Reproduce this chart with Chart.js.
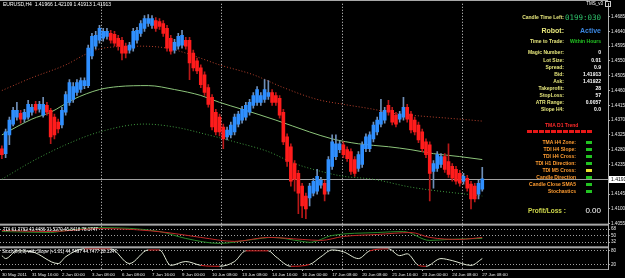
<!DOCTYPE html>
<html>
<head>
<meta charset="utf-8">
<script src="https://cdn.jsdelivr.net/npm/chart.js@4.4.1/dist/chart.umd.min.js"></script>
<style>
body{margin:0;background:#000;}
#wrap{position:relative;width:625px;height:278px;overflow:hidden;background:#000;font-family:"Liberation Sans",Arial,sans-serif;}
#chart{position:absolute;left:0;top:0;}
.t{position:absolute;white-space:nowrap;line-height:1;}
.lab{right:61px;font-size:5px;font-weight:bold;color:#e4e47a;text-align:right;}
.val{right:24px;font-size:5px;font-weight:bold;color:#fff;text-align:right;}
.ora{right:49px;font-size:5px;font-weight:bold;color:#ff9c30;text-align:right;}
.box{position:absolute;left:586px;width:6px;height:3px;background:#22c322;}
</style>
</head>
<body>
<div id="wrap">
<canvas id="chart" width="625" height="278"></canvas>

<div class="t" style="left:3px;top:2px;font-size:5px;color:#fff">EURUSD,H4&nbsp; 1.41966 1.42109 1.41913 1.41913</div>
<div class="t" style="left:3px;top:227.5px;font-size:4.5px;color:#fff">TDI 61.3762 43.4486 31.5279 45.8418 78.1747</div>
<div class="t" style="left:2px;top:249.5px;font-size:4.5px;color:#fff">Stoch(8,3,3) with Slope (+1.01) 44.7497 44.7477 28.1347</div>

<div class="t" style="right:22px;top:2px;font-size:4.5px;color:#fff">TMS_v3</div>
<div class="t" style="left:605px;top:1px;width:4px;height:4px;border:1px solid #ccc"></div>

<div class="t lab" style="top:14.5px">Candle Time Left:</div>
<div class="t" style="right:24px;top:13.5px;font-size:7.5px;font-family:'DejaVu Sans Mono',monospace;color:#2fc26b">0199:030</div>
<div class="t lab" style="top:26.5px;font-size:7px">Robot:</div>
<div class="t val" style="top:26.5px;font-size:7px;color:#3b86e0">Active</div>
<div class="t lab" style="top:38.5px">Time to Trade:</div>
<div class="t val" style="top:38.5px;color:#22c322">Within Hours</div>

<div class="t lab" style="top:49.5px">Magic Number:</div><div class="t val" style="top:49.5px">0</div>
<div class="t lab" style="top:57.5px">Lot Size:</div><div class="t val" style="top:57.5px">0.01</div>
<div class="t lab" style="top:64.5px">Spread:</div><div class="t val" style="top:64.5px">0.9</div>
<div class="t lab" style="top:71.5px">Bid:</div><div class="t val" style="top:71.5px">1.41913</div>
<div class="t lab" style="top:78.5px">Ask:</div><div class="t val" style="top:78.5px">1.41922</div>
<div class="t lab" style="top:85.5px">Takeprofit:</div><div class="t val" style="top:85.5px">28</div>
<div class="t lab" style="top:92.5px">StopLoss:</div><div class="t val" style="top:92.5px">57</div>
<div class="t lab" style="top:99.5px">ATR Range:</div><div class="t val" style="top:99.5px">0.0057</div>
<div class="t lab" style="top:106.5px">Slope H4:</div><div class="t val" style="top:106.5px">0.0</div>

<div class="t" style="left:545px;top:122.5px;font-size:5px;font-weight:bold;color:#ff2a2a">TMA D1 Trend</div>
<div class="t" style="left:527px;top:129.5px;width:66px;height:3px;background:repeating-linear-gradient(90deg,#e81818 0 5px,transparent 5px 6px)"></div>

<div class="t ora" style="top:139.5px">TMA H4 Zone:</div><div class="box" style="top:140.5px"></div>
<div class="t ora" style="top:146.5px">TDI H4 Slope:</div><div class="box" style="top:147.5px"></div>
<div class="t ora" style="top:153.5px">TDI H4 Cross:</div><div class="box" style="top:154.5px"></div>
<div class="t ora" style="top:160.5px">TDI H1 Direction:</div><div class="box" style="top:161.5px"></div>
<div class="t ora" style="top:167.5px">TDI M5 Cross:</div><div class="box" style="top:168.5px;background:#e8e030"></div>
<div class="t ora" style="top:174.5px">Candle Direction</div><div class="box" style="top:175.5px"></div>
<div class="t ora" style="top:181.5px">Candle Close SMA5</div><div class="box" style="top:182.5px"></div>
<div class="t ora" style="top:188.5px">Stochastics</div><div class="box" style="top:189.5px"></div>

<div class="t" style="left:528px;top:207.5px;font-size:6.5px;font-weight:bold;color:#cdd64a">Profit/Loss :</div>
<div class="t" style="right:24px;top:207px;font-size:8px;color:#fff">0.00</div>
</div>

<script>
// EURUSD H4 candles, bar index 0 = 30 May 2011
const open=[1.4283,1.4268,1.4325,1.4358,1.4379,1.4391,1.4373,1.4379,1.4394,1.4418,
1.4403,1.4385,1.4415,1.4400,1.4379,1.4364,1.4355,1.4394,1.4424,1.4433,
1.4454,1.4463,1.4475,1.4475,1.4565,1.4595,1.4613,1.4619,1.4625,1.4634,
1.4631,1.4619,1.4613,1.4595,1.4583,1.4589,1.4613,1.4634,1.4649,1.4664,
1.4658,1.4673,1.4670,1.4664,1.4649,1.4619,1.4583,1.4595,1.4598,1.4613,
1.4613,1.4574,1.4550,1.4529,1.4508,1.4469,1.4439,1.4394,1.4379,1.4349,
1.4319,1.4325,1.4334,1.4358,1.4370,1.4379,1.4394,1.4415,1.4424,1.4424,
1.4433,1.4442,1.4454,1.4445,1.4436,1.4394,1.4319,1.4289,1.4238,1.4208,
1.4169,1.4139,1.4133,1.4148,1.4154,1.4172,1.4178,1.4154,1.4229,1.4259,
1.4280,1.4295,1.4280,1.4274,1.4250,1.4223,1.4235,1.4283,1.4283,1.4313,
1.4334,1.4358,1.4370,1.4415,1.4400,1.4385,1.4373,1.4379,1.4409,1.4388,
1.4370,1.4355,1.4334,1.4304,1.4295,1.4214,1.4223,1.4235,1.4259,1.4244,
1.4229,1.4220,1.4208,1.4184,1.4193,1.4175,1.4169,1.4145,1.4160];
const high=[1.4292,1.4343,1.4379,1.4409,1.4424,1.4400,1.4403,1.4430,1.4418,1.4427,
1.4427,1.4439,1.4424,1.4406,1.4388,1.4373,1.4409,1.4457,1.4493,1.4484,
1.4493,1.4499,1.4499,1.4598,1.4634,1.4640,1.4658,1.4649,1.4649,1.4643,
1.4640,1.4628,1.4622,1.4604,1.4607,1.4649,1.4652,1.4673,1.4688,1.4691,
1.4688,1.4682,1.4679,1.4673,1.4658,1.4628,1.4616,1.4634,1.4643,1.4622,
1.4622,1.4583,1.4559,1.4538,1.4517,1.4478,1.4448,1.4403,1.4388,1.4358,
1.4349,1.4364,1.4388,1.4397,1.4412,1.4424,1.4433,1.4454,1.4472,1.4454,
1.4493,1.4490,1.4463,1.4454,1.4445,1.4403,1.4328,1.4298,1.4247,1.4217,
1.4178,1.4148,1.4178,1.4193,1.4220,1.4196,1.4187,1.4259,1.4325,1.4325,
1.4307,1.4304,1.4289,1.4283,1.4259,1.4274,1.4304,1.4328,1.4334,1.4364,
1.4379,1.4433,1.4409,1.4430,1.4409,1.4394,1.4397,1.4439,1.4418,1.4397,
1.4379,1.4364,1.4343,1.4313,1.4304,1.4247,1.4274,1.4268,1.4268,1.4298,
1.4238,1.4229,1.4217,1.4208,1.4202,1.4184,1.4178,1.4187,1.4226];
const low=[1.4253,1.4256,1.4295,1.4352,1.4370,1.4361,1.4364,1.4373,1.4385,1.4391,
1.4394,1.4379,1.4385,1.4298,1.4313,1.4331,1.4346,1.4385,1.4415,1.4424,
1.4445,1.4454,1.4466,1.4469,1.4556,1.4586,1.4604,1.4610,1.4616,1.4604,
1.4595,1.4583,1.4553,1.4559,1.4574,1.4580,1.4604,1.4625,1.4640,1.4655,
1.4649,1.4640,1.4646,1.4625,1.4580,1.4571,1.4574,1.4586,1.4589,1.4586,
1.4493,1.4520,1.4511,1.4469,1.4445,1.4409,1.4340,1.4325,1.4322,1.4283,
1.4310,1.4316,1.4325,1.4349,1.4361,1.4370,1.4385,1.4406,1.4415,1.4415,
1.4424,1.4433,1.4415,1.4415,1.4376,1.4295,1.4229,1.4169,1.4154,1.4085,
1.4073,1.4070,1.4109,1.4139,1.4145,1.4163,1.4124,1.4145,1.4220,1.4250,
1.4271,1.4256,1.4244,1.4205,1.4199,1.4214,1.4226,1.4274,1.4274,1.4304,
1.4325,1.4349,1.4361,1.4385,1.4355,1.4349,1.4364,1.4370,1.4364,1.4331,
1.4325,1.4301,1.4274,1.4256,1.4124,1.4163,1.4214,1.4226,1.4211,1.4196,
1.4184,1.4175,1.4169,1.4175,1.4154,1.4100,1.4121,1.4130,1.4154];
const close=[1.4265,1.4334,1.4370,1.4400,1.4400,1.4373,1.4394,1.4418,1.4409,1.4400,
1.4418,1.4418,1.4394,1.4319,1.4325,1.4343,1.4400,1.4448,1.4484,1.4472,
1.4484,1.4490,1.4490,1.4589,1.4625,1.4628,1.4649,1.4640,1.4640,1.4613,
1.4604,1.4595,1.4574,1.4574,1.4598,1.4640,1.4643,1.4664,1.4679,1.4679,
1.4679,1.4649,1.4655,1.4634,1.4589,1.4580,1.4607,1.4625,1.4628,1.4595,
1.4544,1.4529,1.4520,1.4478,1.4454,1.4418,1.4349,1.4334,1.4334,1.4313,
1.4340,1.4355,1.4379,1.4388,1.4403,1.4415,1.4424,1.4445,1.4463,1.4445,
1.4463,1.4454,1.4424,1.4424,1.4385,1.4304,1.4244,1.4184,1.4190,1.4148,
1.4109,1.4100,1.4169,1.4184,1.4199,1.4187,1.4145,1.4250,1.4304,1.4298,
1.4298,1.4265,1.4253,1.4214,1.4208,1.4265,1.4295,1.4319,1.4325,1.4355,
1.4370,1.4394,1.4400,1.4394,1.4364,1.4358,1.4388,1.4409,1.4373,1.4340,
1.4334,1.4310,1.4283,1.4265,1.4208,1.4238,1.4265,1.4259,1.4220,1.4205,
1.4193,1.4184,1.4178,1.4199,1.4163,1.4130,1.4130,1.4178,1.4191];

// TMA lines (bar index, price)
const midIdx=[0,8,13,19,26,31,39,46,53,58,64,73,82,88,95,103,109,115,122,128];
const midVal=[1.4325,1.4373,1.4394,1.4433,1.4463,1.4472,1.4475,1.4463,1.4445,1.4424,1.4403,1.4370,1.4334,1.4313,1.4298,1.4289,1.4280,1.4268,1.4259,1.4250];
const upIdx=[0,8,17,23,27,37,44,49,55,58,67,75,84,91,99,104,109,122,128];
const upVal=[1.4460,1.4499,1.4538,1.4574,1.4589,1.4595,1.4589,1.4574,1.4550,1.4538,1.4508,1.4469,1.4433,1.4418,1.4403,1.4391,1.4385,1.4373,1.4367];
const dnIdx=[0,8,17,26,38,46,55,62,71,78,85,91,99,109,128];
const dnVal=[1.4190,1.4244,1.4295,1.4334,1.4358,1.4349,1.4325,1.4304,1.4274,1.4238,1.4214,1.4199,1.4190,1.4166,1.4139];

// TDI
const tdiRedIdx=[0,13,26,35,44,53,62,71,80,85,91,100,109,114,122,128];
const tdiRed=[63.8,61.1,69.3,66.6,58.3,44.7,33.7,44.7,39.2,36.4,47.4,52.9,58.3,44.7,39.2,44.7];
const tdiGreenIdx=[0,13,17,26,42,49,58,67,72,80,82,88,100,107,114,119,128];
const tdiGreen=[61.1,58.3,63.8,72.0,61.1,41.9,28.2,39.2,44.7,33.7,31.0,50.1,58.3,61.1,36.4,39.2,41.9];

// Stochastic
const stochIdx=[0,1,4,8,15,17,22,29,34,39,42,45,49,53,58,62,65,71,73,77,82,85,88,91,95,98,103,106,108,111,113,117,120,125,128];
const stochVal=[59,46,80,76,24,54,89,89,24,84,84,16,33,16,12,33,80,80,54,12,20,54,84,76,46,80,89,59,67,16,12,46,37,16,46];

// axes
const priceTicks=[1.4685,1.4640,1.4595,1.4550,1.4505,1.4460,1.4415,1.4370,1.4325,1.4280,1.4235,1.4145,1.4100,1.4055];
const tdiTicks=[68,50,32];
const stochTicks=[80,20];
const timeIdx=[0,8,16,24,32,40,48,56,64,72,80,88,96,104,112,120,128];
const timeLabels=['30 May 2011','31 May 16:00','2 Jun 00:00','3 Jun 08:00','6 Jun 08:00','7 Jun 16:00','9 Jun 00:00','10 Jun 08:00','13 Jun 08:00','14 Jun 16:00','16 Jun 00:00','17 Jun 08:00','20 Jun 08:00','21 Jun 16:00','23 Jun 00:00','24 Jun 08:00','27 Jun 08:00'];
const weekStarts=[26.5,58.5,90.5,122.5];
const bid=1.41913;

Chart.defaults.font.family='Liberation Sans';
Chart.defaults.font.size=5;
Chart.defaults.color='#e8e8e8';

const pts=(idx,vals)=>idx.map((x,k)=>({x:x,y:vals[k]}));
const up=open.map((o,i)=>close[i]>=o);

const panelPlugin={
id:'panels',
beforeDraw(chart){
const ctx=chart.ctx;
ctx.save();
ctx.fillStyle='#000';
ctx.fillRect(0,0,chart.width,chart.height);
ctx.restore();
},
beforeDatasetsDraw(chart){
const {ctx,chartArea,scales}=chart;
ctx.save();
ctx.lineWidth=1;
ctx.strokeStyle='#d8d8d8';
ctx.setLineDash([1,2]);
weekStarts.forEach(w=>{
const x=Math.round(scales.x.getPixelForValue(w))+0.5;
ctx.beginPath();
ctx.moveTo(x,chartArea.top);
ctx.lineTo(x,chartArea.bottom);
ctx.stroke();
});
ctx.setLineDash([]);
ctx.strokeStyle='#a0a0a0';
const py=Math.round(scales.y.getPixelForValue(bid))+0.5;
ctx.beginPath();
ctx.moveTo(chartArea.left,py);
ctx.lineTo(chartArea.right,py);
ctx.stroke();
ctx.restore();
},
afterDraw(chart){
const {ctx,chartArea,scales}=chart;
ctx.save();
ctx.fillStyle='#a8a8a8';
ctx.fillRect(0,0,chartArea.right,1);
ctx.fillRect(0,scales.yT.top,chartArea.right,2);
ctx.fillRect(0,scales.yS.top,chartArea.right,2);
const py=Math.round(scales.y.getPixelForValue(bid));
ctx.fillStyle='#fff';
ctx.fillRect(chartArea.right+1,py-3,chart.width-chartArea.right-1,7);
ctx.fillStyle='#000';
ctx.font='5px "Liberation Sans"';
ctx.textBaseline='middle';
ctx.fillText(bid.toFixed(4),chartArea.right+3,py+0.5);
ctx.restore();
}
};

const chart=new Chart(document.getElementById('chart'),{
type:'bar',
data:{
datasets:[
{
label:'bodies',
data:open.map((o,i)=>({x:i,y:[o,close[i]]})),
backgroundColor:up.map(u=>u?'#2f8fff':'#ff1c1c'),
barThickness:3,
grouped:false,
order:1
},
{
label:'wicks',
data:open.map((o,i)=>({x:i,y:[low[i],high[i]]})),
backgroundColor:up.map(u=>u?'#6f8fb8':'#b81818'),
barThickness:1,
grouped:false,
order:2
},
{
type:'line',
label:'TMA mid',
data:pts(midIdx,midVal),
borderColor:'#8cc47a',
borderWidth:1,
pointRadius:0,
cubicInterpolationMode:'monotone',
order:3
},
{
type:'line',
label:'TMA upper',
data:pts(upIdx,upVal),
borderColor:'#b8402c',
borderWidth:1,
borderDash:[1,2],
pointRadius:0,
cubicInterpolationMode:'monotone',
order:3
},
{
type:'line',
label:'TMA lower',
data:pts(dnIdx,dnVal),
borderColor:'#3f9a3f',
borderWidth:1,
borderDash:[1,2],
pointRadius:0,
cubicInterpolationMode:'monotone',
order:3
},
{
type:'line',
label:'TDI signal',
yAxisID:'yT',
data:pts(tdiRedIdx,tdiRed),
borderColor:'#c02828',
borderWidth:1,
pointRadius:0,
cubicInterpolationMode:'monotone',
order:3
},
{
type:'line',
label:'TDI price',
yAxisID:'yT',
data:pts(tdiGreenIdx,tdiGreen),
borderColor:'#2a8a2a',
borderWidth:1,
pointRadius:0,
cubicInterpolationMode:'monotone',
order:3
},
{
type:'line',
label:'Stoch',
yAxisID:'yS',
data:pts(stochIdx,stochVal),
borderColor:'#e4ecd8',
borderWidth:1,
pointRadius:0,
cubicInterpolationMode:'monotone',
segment:{
borderColor:c=>{
const a=c.p0.parsed.y,b=c.p1.parsed.y;
if((a>=78&&b>=78)||(a<=22&&b<=22)) return '#d82020';
return undefined;
}
},
order:3
}
]
},
options:{
responsive:false,
animation:false,
layout:{padding:0},
plugins:{
legend:{display:false},
tooltip:{enabled:false}
},
scales:{
x:{
type:'linear',
min:-0.5,
max:161.5,
offset:false,
grid:{display:true,drawOnChartArea:false,offset:false,tickLength:2,color:'#c0c0c0'},
border:{color:'#909090'},
afterBuildTicks:s=>{ s.ticks=timeIdx.map(v=>({value:v})); },
afterFit:s=>{ s.height=9; },
ticks:{
autoSkip:false,
maxRotation:0,
align:'start',
padding:1,
font:{size:4.4},
color:'#e8e8e8',
callback:v=>timeLabels[timeIdx.indexOf(v)]
}
},
y:{
position:'right',
stack:'panes',
stackWeight:223,
min:1.4055,
max:1.4724,
grid:{drawOnChartArea:false,tickLength:2,color:'#b0b0b0'},
border:{color:'#b0b0b0'},
afterBuildTicks:s=>{ s.ticks=priceTicks.map(v=>({value:v})); },
afterFit:s=>{ s.width=17; },
ticks:{autoSkip:false,padding:1,font:{size:4.6},callback:v=>v.toFixed(4)}
},
yT:{
position:'right',
stack:'panes',
stackWeight:23,
min:20,
max:83,
grid:{color:'#a0a0a0',tickLength:2,lineWidth:1},
border:{color:'#b0b0b0',dash:[1,2]},
afterBuildTicks:s=>{ s.ticks=tdiTicks.map(v=>({value:v})); },
afterFit:s=>{ s.width=17; },
ticks:{autoSkip:false,padding:1,font:{size:4.6}}
},
yS:{
position:'right',
stack:'panes',
stackWeight:23,
min:0,
max:100,
grid:{color:'#a0a0a0',tickLength:2},
border:{color:'#b0b0b0',dash:[1,2]},
afterBuildTicks:s=>{ s.ticks=stochTicks.map(v=>({value:v})); },
afterFit:s=>{ s.width=17; },
ticks:{autoSkip:false,padding:1,font:{size:4.6}}
}
}
},
plugins:[panelPlugin]
});
</script>
</body>
</html>
